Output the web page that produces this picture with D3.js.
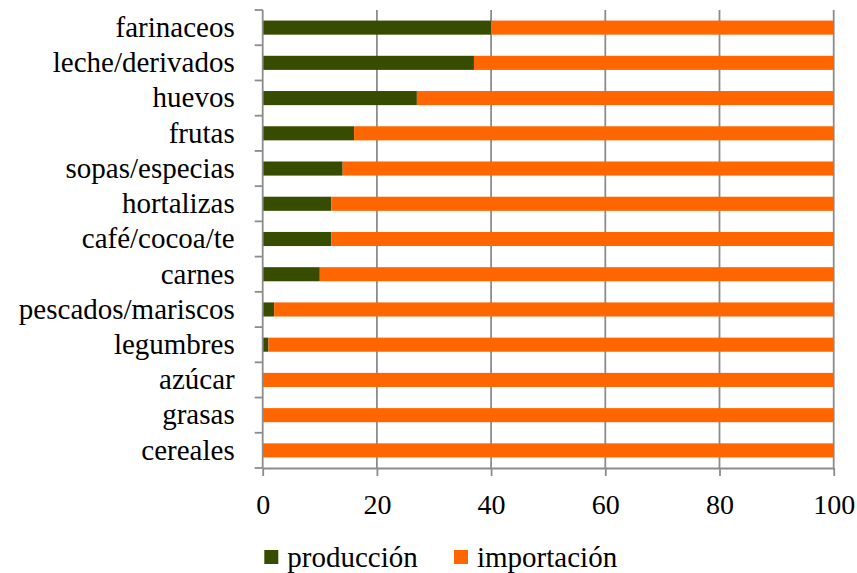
<!DOCTYPE html>
<html>
<head>
<meta charset="utf-8">
<script src="https://cdn.jsdelivr.net/npm/d3@7"></script>
<style>
  html, body { margin: 0; padding: 0; background: #fff; }
  svg { display: block; }
  svg text { font-family: 'Liberation Serif', 'DejaVu Serif', 'Noto Serif', serif !important; fill: #000; }
</style>
</head>
<body>
<svg id="chart" width="857" height="573"></svg>
<script>
const categories = ["farinaceos", "leche/derivados", "huevos", "frutas", "sopas/especias", "hortalizas", "café/cocoa/te", "carnes", "pescados/mariscos", "legumbres", "azúcar", "grasas", "cereales"];
const produccion = [40, 37, 27, 16, 14, 12, 12, 10, 2, 1, 0, 0, 0];
const importacion = [60, 63, 73, 84, 86, 88, 88, 90, 98, 99, 100, 100, 100];
const xTicks = [0, 20, 40, 60, 80, 100];
const seriesNames = ["producción", "importación"];
const colors = ["#384C00", "#FF6600"];

(function () {
const svg = d3.select("#chart");
const plotLeft = 262.7, plotRight = 833.7, plotTop = 10, plotBottom = 468;
const baseSize = 25;

const x = d3.scaleLinear().domain([0, 100]).range([plotLeft, plotRight]);
const y = d3.scaleBand().domain(categories).range([plotTop, plotBottom]).paddingInner(0.6).paddingOuter(0.3);

const gridColor = "#8c8c8c";

// gridlines
svg.append("g").selectAll("line").data(xTicks.filter(d => d > 0)).join("line")
  .attr("x1", d => x(d)).attr("x2", d => x(d))
  .attr("y1", plotTop).attr("y2", plotBottom)
  .attr("stroke", gridColor).attr("stroke-width", 1.8);

// stacked data
const rows = categories.map((c, i) => ({cat: c, produccion: produccion[i], importacion: importacion[i]}));
const stacked = d3.stack().keys(["produccion", "importacion"])(rows);

svg.append("g").selectAll("g").data(stacked).join("g")
  .attr("fill", (d, i) => colors[i])
  .selectAll("rect").data(d => d).join("rect")
  .attr("x", d => x(d[0]))
  .attr("width", d => x(d[1]) - x(d[0]))
  .attr("y", d => y(d.data.cat))
  .attr("height", y.bandwidth());

// y axis line + boundary ticks
const step = y.step();
const boundaries = categories.map(c => y(c) - (step - y.bandwidth()) / 2).concat([plotBottom]);
svg.append("line").attr("x1", plotLeft).attr("x2", plotLeft).attr("y1", plotTop).attr("y2", plotBottom)
  .attr("stroke", gridColor).attr("stroke-width", 1.8);
svg.append("g").selectAll("line").data(boundaries).join("line")
  .attr("x1", plotLeft - 8).attr("x2", plotLeft)
  .attr("y1", d => d).attr("y2", d => d)
  .attr("stroke", gridColor).attr("stroke-width", 1.8);

// y labels (rendered at base size and scaled up)
const sY = 29 / baseSize;
const yAxis = svg.append("g").attr("transform", `translate(${plotLeft},0)`)
  .call(d3.axisLeft(y).tickSize(0).tickPadding(28));
yAxis.select(".domain").remove();
yAxis.attr("font-family", null).attr("font-size", baseSize);
yAxis.selectAll("text").attr("fill", "#000")
  .attr("x", -28 / sY).attr("transform", `scale(${sY})`);

// x axis
const sX = 28 / baseSize;
const xAxis = svg.append("g").attr("transform", `translate(0,${plotBottom})`)
  .call(d3.axisBottom(x).tickValues(xTicks).tickFormat(d3.format("d")).tickSize(8).tickSizeOuter(0).tickPadding(18));
xAxis.attr("font-family", null).attr("font-size", baseSize);
xAxis.select(".domain").attr("stroke", gridColor).attr("stroke-width", 1.8);
xAxis.selectAll(".tick line").attr("stroke", gridColor).attr("stroke-width", 1.8);
xAxis.selectAll("text").attr("fill", "#000")
  .attr("y", 26 / sX).attr("transform", `scale(${sX})`);

// legend
const sL = 29 / baseSize;
const legendX = [264.3, 454];
const lg = svg.append("g").attr("font-size", baseSize).selectAll("g").data(seriesNames).join("g")
  .attr("transform", (d, i) => `translate(${legendX[i]},550)`);
lg.append("rect").attr("width", 14).attr("height", 14).attr("fill", (d, i) => colors[i]);
lg.append("text").attr("transform", `translate(23,16.5) scale(${sL})`).text(d => d);
})();
</script>
</body>
</html>
